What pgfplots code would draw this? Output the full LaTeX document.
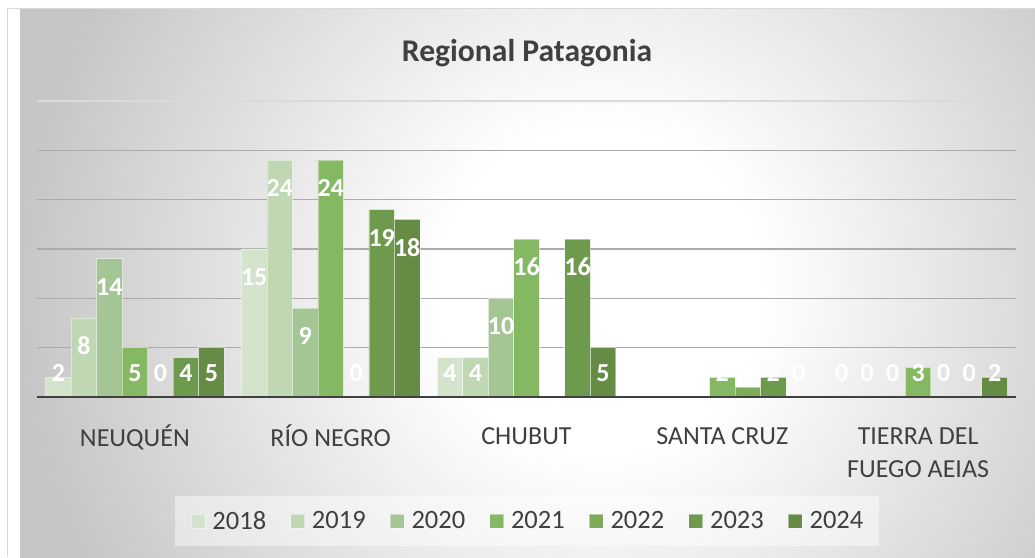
\documentclass[border=0pt]{standalone}
\usepackage{pgfplots}
\pgfplotsset{compat=1.18}
\usepackage{fontspec}
\setmainfont{Carlito}
\definecolor{c18}{HTML}{D4E3CC}
\definecolor{c19}{HTML}{C0D7B4}
\definecolor{c20}{HTML}{A4C594}
\definecolor{c21}{HTML}{85B862}
\definecolor{c22}{HTML}{7DAB5A}
\definecolor{c23}{HTML}{6E9A4E}
\definecolor{c24}{HTML}{658B45}
\definecolor{ctxt}{HTML}{404040}
\definecolor{cgrid}{HTML}{ABABAB}
\definecolor{cgridtop}{HTML}{DADADA}
\definecolor{cbg}{HTML}{C6C6C6}
\pgfdeclareradialshading{bgshade}{\pgfpoint{0bp}{0bp}}{color(0bp)=(white); color(7bp)=(white); color(25bp)=(cbg); color(50bp)=(cbg)}
\begin{document}
\begin{tikzpicture}[x=1pt,y=1pt]
\path[use as bounding box] (0,0) rectangle (1035,557);
\fill[white] (0,0) rectangle (1035,557);
\begin{scope}
\clip (7,0) rectangle (1035,548);
\shade[shading=bgshade] (20,-313) rectangle (1180,847);
\end{scope}
\draw[gray!30, line width=1pt] (7,0) -- (7,548) -- (1035,548);
\node[anchor=base, font=\fontsize{31.6}{31.6}\selectfont\bfseries, text=ctxt, inner sep=0pt] at (527,495) {Regional Patagonia};
\begin{axis}[
  at={(37pt,160pt)}, anchor=south west,
  x=195.8pt, y=9.867pt,
  xmin=-0.5, xmax=4.5, ymin=0, ymax=30,
  axis line style={draw=none},
  tick style={draw=none},
  ybar=0pt, bar width=25.5pt,
  ytick={5,10,15,20,25}, yticklabels={},
  extra y ticks={30}, extra y tick labels={},
  ymajorgrids,
  grid style={cgrid, line width=1.3pt},
  extra y tick style={grid style={cgridtop, line width=1.3pt}},
  xtick={0,1,2,3,4},
  xticklabels={{\rule{0pt}{20pt}NEUQUÉN},{\rule{0pt}{20pt}RÍO NEGRO},{\rule{0pt}{20pt}CHUBUT},{\rule{0pt}{20pt}SANTA CRUZ},{\rule{0pt}{20pt}TIERRA DEL\\FUEGO AEIAS}},
  xticklabel style={align=center, anchor=north, inner sep=0pt, yshift=-23pt, font=\fontsize{26}{33}\selectfont, text=ctxt},
  every axis plot/.append style={draw=white, draw opacity=0.45, line width=0.8pt},
  visualization depends on={rawy \as \rawy},
  nodes near coords={\pgfmathprintnumber[assume math mode=true]{\pgfplotspointmeta}},
  every node near coord/.append style={font=\fontsize{26}{26}\selectfont\bfseries, text=white, anchor=center, yshift={-min(28,\rawy*9.867-24)}},
  legend columns=7,
  legend image code/.code={\draw[#1, fill opacity=1, draw opacity=0.45] (0pt,-7pt) rectangle (14pt,7pt);},
  legend style={at={(axis description cs:0.5005,-0.419)}, anchor=center, draw=none, fill=white, fill opacity=0.45, text opacity=1, inner xsep=16pt, inner ysep=15pt, font=\fontsize{26.5}{26.5}\selectfont, text=ctxt, column sep=7pt, /tikz/every even column/.append style={column sep=24pt}, nodes={inner sep=0pt}},
]
\addplot[fill=c18] coordinates {(0,2) (1,15) (2,4) (3,0) (4,0)};
\addplot[fill=c19] coordinates {(0,8) (1,24) (2,4) (3,0) (4,0)};
\addplot[fill=c20] coordinates {(0,14) (1,9) (2,10) (3,0) (4,0)};
\addplot[fill=c21] coordinates {(0,5) (1,24) (2,16) (3,2) (4,3)};
\addplot[fill=c22] coordinates {(0,0) (1,0) (2,0) (3,1) (4,0)};
\addplot[fill=c23] coordinates {(0,4) (1,19) (2,16) (3,2) (4,0)};
\addplot[fill=c24] coordinates {(0,5) (1,18) (2,5) (3,0) (4,2)};
\legend{2018,2019,2020,2021,2022,2023,2024}
\draw[ctxt, line width=3pt] (axis cs:-0.5,0) -- (axis cs:4.5,0);
\end{axis}
\end{tikzpicture}
\end{document}
